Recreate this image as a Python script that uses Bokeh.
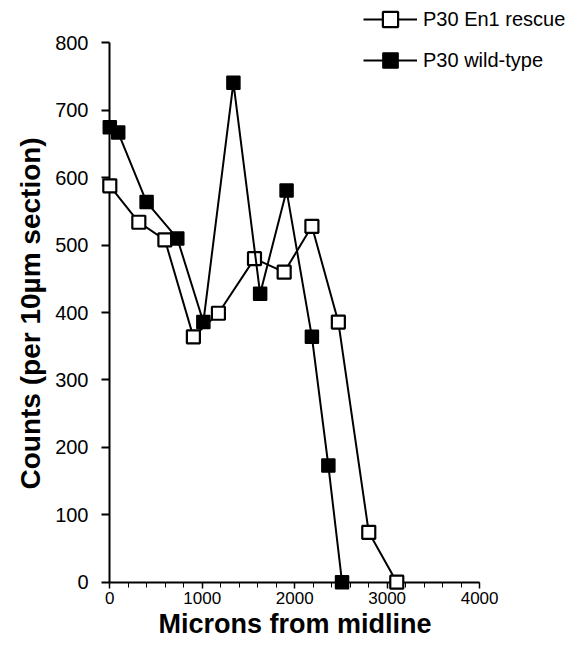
from bokeh.plotting import figure
from bokeh.models import Range1d, LinearAxis, Legend, LegendItem, FixedTicker, Title
from bokeh.embed import file_html
from bokeh.resources import INLINE

# Data
rescue_x = [0, 314, 596, 904, 1175, 1565, 1886, 2186, 2472, 2801, 3104]
rescue_y = [588, 534, 508, 364, 399, 480, 460, 528, 386, 74, 0]
wt_x = [0, 91, 398, 730, 1012, 1337, 1626, 1912, 2186, 2364, 2512]
wt_y = [675, 667, 564, 510, 386, 741, 428, 581, 364, 173, 0]

x_ticks = [0, 1000, 2000, 3000, 4000]
x_minor = list(range(0, 4001, 200))
y_ticks = [0, 100, 200, 300, 400, 500, 600, 700, 800]

FONT = "Liberation Sans"

p = figure(width=570, height=643, output_backend="svg", toolbar_location=None,
           x_range=Range1d(-133, 4983), y_range=Range1d(-12.3, 855.6),
           x_axis_location=None, y_axis_location=None,
           min_border_left=97, min_border_right=0, min_border_top=5,
           min_border_bottom=53)
p.xgrid.visible = False
p.ygrid.visible = False
p.outline_line_color = None
p.background_fill_color = "white"
p.border_fill_color = "white"

# --- label-only axes at the frame edges ---
ylab = LinearAxis(ticker=FixedTicker(ticks=y_ticks, minor_ticks=[]), bounds=(0, 800))
ylab.axis_line_color = None
ylab.major_tick_line_color = None
ylab.minor_tick_line_color = None
ylab.major_tick_out = 0
ylab.major_tick_in = 0
ylab.minor_tick_out = 0
ylab.minor_tick_in = 0
ylab.major_label_standoff = 9
ylab.major_label_text_font = FONT
ylab.major_label_text_font_size = "20px"
ylab.major_label_text_color = "black"
p.add_layout(ylab, "left")

xlab = LinearAxis(ticker=FixedTicker(ticks=x_ticks, minor_ticks=[]), bounds=(0, 4000))
xlab.axis_line_color = None
xlab.major_tick_line_color = None
xlab.minor_tick_line_color = None
xlab.major_tick_out = 0
xlab.major_tick_in = 0
xlab.minor_tick_out = 0
xlab.minor_tick_in = 0
xlab.major_label_standoff = 1
xlab.major_label_text_font = FONT
xlab.major_label_text_font_size = "17px"
xlab.major_label_text_color = "black"
p.add_layout(xlab, "below")

ytitle = Title(text="Counts (per 10µm section)", align="left", offset=101,
               standoff=13, text_font=FONT, text_font_size="28px",
               text_font_style="bold", text_color="black")
p.add_layout(ytitle, "left")
xtitle = Title(text="Microns from midline", align="left", offset=61,
               standoff=0, text_font=FONT, text_font_size="27px",
               text_font_style="bold", text_color="black")
p.add_layout(xtitle, "below")

# --- line/tick-only axes crossing at the origin (their labels are not drawn) ---
yline = LinearAxis(fixed_location=0, bounds=(0, 800), level="underlay",
                   ticker=FixedTicker(ticks=y_ticks, minor_ticks=[]))
yline.axis_line_width = 2
yline.axis_line_color = "black"
yline.major_tick_line_width = 2
yline.major_tick_out = 0
yline.major_tick_in = 8
yline.minor_tick_out = 0
yline.minor_tick_in = 0
yline.major_label_standoff = 0
yline.major_label_text_font_size = "1px"
yline.major_label_text_color = None
p.add_layout(yline, "right")

xline = LinearAxis(fixed_location=0, bounds=(0, 4000), level="underlay",
                   ticker=FixedTicker(ticks=x_ticks, minor_ticks=x_minor))
xline.axis_line_width = 2
xline.axis_line_color = "black"
xline.major_tick_line_width = 1.5
xline.major_tick_out = 0
xline.major_tick_in = 6
xline.minor_tick_out = 0
xline.minor_tick_in = 5
xline.minor_tick_line_width = 1
xline.major_label_standoff = 0
xline.major_label_text_font_size = "1px"
xline.major_label_text_color = None
p.add_layout(xline, "above")

l1 = p.line(rescue_x, rescue_y, line_color="black", line_width=2)
s1 = p.scatter(rescue_x, rescue_y, marker="square", size=13,
               fill_color="white", line_color="black", line_width=2.2)
l2 = p.line(wt_x, wt_y, line_color="black", line_width=2)
s2 = p.scatter(wt_x, wt_y, marker="square", size=13,
               fill_color="black", line_color="black", line_width=1.5)

legend = Legend(items=[LegendItem(label="P30 En1 rescue", renderers=[l1, s1]),
                       LegendItem(label="P30 wild-type", renderers=[l2, s2])],
                location=(266, 511))
legend.glyph_width = 54
legend.glyph_height = 38
legend.label_height = 38
legend.spacing = 3
legend.padding = 0
legend.margin = 0
legend.label_standoff = 6
legend.border_line_color = None
legend.background_fill_alpha = 0
legend.label_text_font = FONT
legend.label_text_font_size = "20px"
legend.label_text_color = "black"
p.add_layout(legend, "center")

open("out.html", "w").write(file_html(p, INLINE))
